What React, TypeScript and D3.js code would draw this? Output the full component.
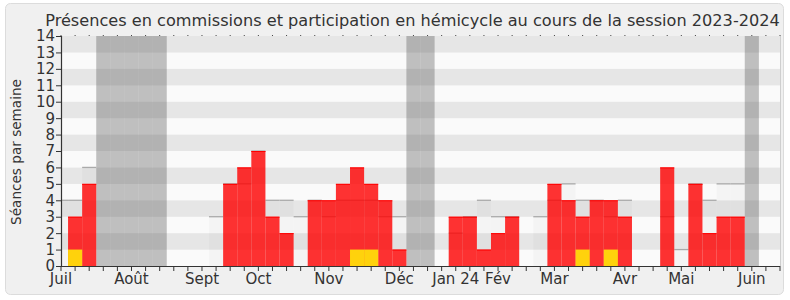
import React from "react";
import * as d3 from "d3";

// week index (first entry = week -1, last = week 50)
const weeks: number[] = d3.range(-1, 51);
// median presence (grey bars)
const medianValues: number[] = [
  4, 4, 6, 0, 0, 0, 0, 0, 0, 0, 0, 3, 5, 5, 7, 4, 4, 3, 4, 3, 4, 4, 4, 3, 3, 0,
  0, 0, 2, 3, 4, 3, 3, 0, 3, 4, 5, 4, 4, 3, 4, 0, 0, 3, 1, 5, 4, 5, 5, 0, 0, 0,
];
// deputy presence (red bars)
const presenceValues: number[] = [
  0, 3, 5, 0, 0, 0, 0, 0, 0, 0, 0, 0, 5, 6, 7, 3, 2, 0, 4, 4, 5, 6, 5, 4, 1, 0,
  0, 0, 3, 3, 1, 2, 3, 0, 0, 5, 4, 3, 4, 4, 3, 0, 0, 6, 0, 5, 2, 3, 3, 0, 0, 0,
];
// participation in hemicycle (yellow bars)
const participationValues: number[] = [
  0, 1, 0, 0, 0, 0, 0, 0, 0, 0, 0, 0, 0, 0, 0, 0, 0, 0, 0, 0, 0, 1, 1, 0, 0, 0,
  0, 0, 0, 0, 0, 0, 0, 0, 0, 0, 0, 1, 0, 1, 0, 0, 0, 0, 0, 0, 0, 0, 0, 0, 0, 0,
];
// vacation weeks
const vacationWeeks: number[] = [2, 3, 4, 5, 6, 24, 25, 48];
// month labels and their week positions
const monthLabels: string[] = ["Juil", "Août", "Sept", "Oct", "Nov", "Déc", "Jan 24", "Fév", "Mar", "Avr", "Mai", "Juin"];
const monthWeeks: number[] = [-1, 4, 9, 13, 18, 23, 27, 30, 34, 39, 43, 48];
const yTicks: number[] = d3.range(0, 15);

const title = "Présences en commissions et participation en hémicycle au cours de la session 2023-2024";
const yTitle = "Séances par semaine";

export default function App() {
  const W = 790;
  const H = 300;
  const left = 61;
  const right = 780;
  const top = 36;
  const bottom = 266;
  const x = d3.scaleLinear().domain([-1, 50]).range([left, right]);
  const y = d3.scaleLinear().domain([0, 14]).range([bottom, top]);
  const font = "'DejaVu Sans', sans-serif";
  const bw = x(1) - x(0);

  return (
    <svg width={W} height={H} style={{ position: "absolute", left: 0, top: 0 }} fontFamily={font}>
      <defs>
        <clipPath id="plot">
          <rect x={left} y={top} width={right - left} height={bottom - top} />
        </clipPath>
      </defs>
      <rect x={5.5} y={3.5} width={778} height={291} rx={5} fill="#f0f0f0" stroke="#dcdcdc" />
      <text x={412.5} y={26} textAnchor="middle" fontSize={16.15} fill="#333">
        {title}
      </text>
      <text
        transform={`translate(21, 152) rotate(-90)`}
        textAnchor="middle"
        fontSize={13.6}
        fill="#333"
      >
        {yTitle}
      </text>
      <g clipPath="url(#plot)">
        {d3.range(0, 14).map((v) => (
          <rect
            key={"s" + v}
            x={left}
            y={y(v + 1)}
            width={right - left}
            height={y(v) - y(v + 1)}
            fill={v % 2 === 1 ? "#e6e6e6" : "#fafafa"}
          />
        ))}
        {vacationWeeks.map((w) => (
          <rect
            key={"v" + w}
            x={x(w - 0.5)}
            y={top}
            width={bw}
            height={bottom - top}
            fill="rgb(81,81,81)"
            fillOpacity={0.35}
          />
        ))}
        {weeks.map((w, i) =>
          medianValues[i] > 0 ? (
            <g key={"m" + w}>
              <rect
                x={x(w - 0.5)}
                y={y(medianValues[i])}
                width={bw}
                height={y(0) - y(medianValues[i])}
                fill="#000"
                fillOpacity={0.025}
              />
              <line
                x1={x(w - 0.5)}
                x2={x(w + 0.5)}
                y1={y(medianValues[i])}
                y2={y(medianValues[i])}
                stroke="#aaa"
                strokeWidth={1.3}
              />
            </g>
          ) : null
        )}
        {weeks.map((w, i) =>
          presenceValues[i] > 0 ? (
            <g key={"p" + w}>
              <rect
                x={x(w - 0.5)}
                y={y(presenceValues[i])}
                width={bw}
                height={y(0) - y(presenceValues[i])}
                fill="rgb(255,0,0)"
                fillOpacity={0.8}
              />
              <line
                x1={x(w - 0.5)}
                x2={x(w + 0.5)}
                y1={y(presenceValues[i]) + 0.5}
                y2={y(presenceValues[i]) + 0.5}
                stroke="#ff0000"
                strokeWidth={1}
              />
            </g>
          ) : null
        )}
        {weeks.map((w, i) =>
          participationValues[i] > 0 ? (
            <rect
              key={"y" + w}
              x={x(w - 0.5)}
              y={y(participationValues[i])}
              width={bw}
              height={y(0) - y(participationValues[i])}
              fill="#ffd20c"
            />
          ) : null
        )}
      </g>
      {/* right border */}
      <line x1={right + 0.5} x2={right + 0.5} y1={top} y2={bottom} stroke="#cfcfcf" />
      {/* top tick dots */}
      {weeks.map((w) => (
        <line key={"tt" + w} x1={x(w)} x2={x(w)} y1={top - 1} y2={top} stroke="#444" strokeWidth={1} />
      ))}
      {/* y axis */}
      <line x1={left + 0.5} x2={left + 0.5} y1={top} y2={bottom} stroke="#333" strokeWidth={1.2} />
      {yTicks.map((v) => (
        <g key={"yt" + v}>
          <line x1={left - 5} x2={left} y1={y(v) + 0.5} y2={y(v) + 0.5} stroke="#333" />
          <text x={left - 6} y={y(v)} dy="0.36em" textAnchor="end" fontSize={15} fill="#333">
            {v}
          </text>
        </g>
      ))}
      {/* x axis */}
      <line x1={left} x2={right} y1={bottom + 0.5} y2={bottom + 0.5} stroke="#333" strokeWidth={1.2} />
      {weeks.map((w) => (
        <line key={"xt" + w} x1={x(w)} x2={x(w)} y1={bottom} y2={bottom + 5} stroke="#333" />
      ))}
      {monthLabels.map((m, i) => (
        <text key={"ml" + m} x={x(monthWeeks[i])} y={284} textAnchor="middle" fontSize={15} fill="#333">
          {m}
        </text>
      ))}
    </svg>
  );
}
